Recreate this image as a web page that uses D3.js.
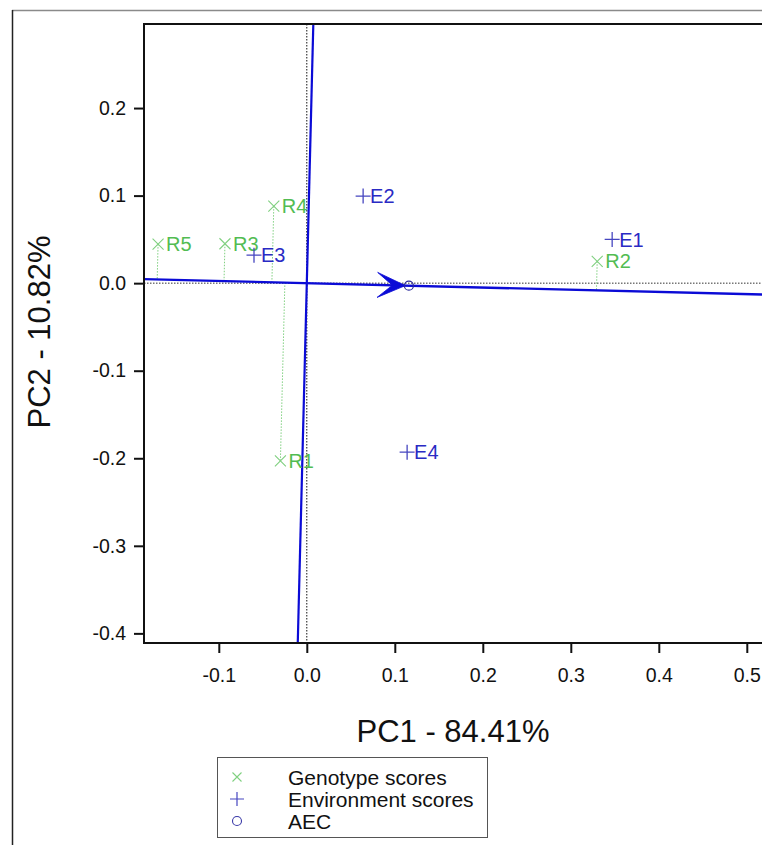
<!DOCTYPE html>
<html>
<head>
<meta charset="utf-8">
<script src="https://cdn.jsdelivr.net/npm/d3@7"></script>
<style>
  html, body { margin: 0; padding: 0; background: #fff; }
  svg { display: block; font-family: "Liberation Sans", Arial, sans-serif; }
</style>
</head>
<body>
<svg id="chart" width="762" height="845"></svg>
<script>
// ---- data ----
const genotypes = ["R1", "R2", "R3", "R4", "R5"];
const genoPC1 = [-0.030, 0.330, -0.093, -0.0375, -0.169];
const genoPC2 = [-0.203, 0.025, 0.045, 0.088, 0.0446];

const environments = ["E1", "E2", "E3", "E4"];
const envPC1 = [0.347, 0.064, -0.060, 0.114];
const envPC2 = [0.050, 0.0995, 0.032, -0.193];

const aecPoint = [0.116, -0.0029];

const xTicks = [-0.1, 0.0, 0.1, 0.2, 0.3, 0.4, 0.5];
const yTicks = [-0.4, -0.3, -0.2, -0.1, 0.0, 0.1, 0.2];

const xTitle = "PC1 - 84.41%";
const yTitle = "PC2 - 10.82%";
const legendLabels = ["Genotype scores", "Environment scores", "AEC"];

// ---- layout ----
const svg = d3.select("#chart");
const L = 144, T = 24, B = 643;
const x = d3.scaleLinear().domain([-0.185, 0.55]).range([L, L + 0.735 * 880]);
const y = d3.scaleLinear().domain([-0.411, 0.296]).range([B, T]);
const R = x(0.55);

const lineBlue = "#0b0bd6";
const envBlue = "#2a2ac4";
const green = "#52bc52";
const lightGreen = "#80d080";
const fmt = d => d3.format(".1f")(d).replace("\u2212", "-");

// outer frame
svg.append("line").attr("x1", 12).attr("x2", 800).attr("y1", 10.5).attr("y2", 10.5)
  .attr("stroke", "#8a8a8a").attr("stroke-width", 1.5);
svg.append("line").attr("x1", 12.5).attr("x2", 12.5).attr("y1", 10).attr("y2", 845)
  .attr("stroke", "#222").attr("stroke-width", 1.5);

// clip
svg.append("clipPath").attr("id", "plotclip").append("rect")
  .attr("x", L).attr("y", T).attr("width", R - L).attr("height", B - T);
const plot = svg.append("g").attr("clip-path", "url(#plotclip)");

// dotted zero lines
plot.append("line").attr("x1", L).attr("x2", R).attr("y1", y(0)).attr("y2", y(0))
  .attr("stroke", "#333").attr("stroke-width", 1).attr("stroke-dasharray", "1.5,1.5");
plot.append("line").attr("x1", x(0)).attr("x2", x(0)).attr("y1", T).attr("y2", B)
  .attr("stroke", "#111").attr("stroke-width", 1).attr("stroke-dasharray", "1.5,1.5");

// AEC direction
const norm = Math.hypot(aecPoint[0], aecPoint[1]);
const ux = aecPoint[0] / norm, uy = aecPoint[1] / norm;

// projections of genotypes onto AEC abscissa
genotypes.forEach((g, i) => {
  const t = genoPC1[i] * ux + genoPC2[i] * uy;
  plot.append("line")
    .attr("x1", x(genoPC1[i])).attr("y1", y(genoPC2[i]))
    .attr("x2", x(t * ux)).attr("y2", y(t * uy))
    .attr("stroke", lightGreen).attr("stroke-width", 1).attr("stroke-dasharray", "1.5,1.5");
});

// AEC abscissa and ordinate
const big = 2;
plot.append("line")
  .attr("x1", x(-big * ux)).attr("y1", y(-big * uy))
  .attr("x2", x(big * ux)).attr("y2", y(big * uy))
  .attr("stroke", lineBlue).attr("stroke-width", 2.4);
plot.append("line")
  .attr("x1", x(big * uy)).attr("y1", y(-big * ux))
  .attr("x2", x(-big * uy)).attr("y2", y(big * ux))
  .attr("stroke", lineBlue).attr("stroke-width", 2.2);

// arrowhead near AEC point
{
  const tipT = norm - 0.004;
  const tx = x(tipT * ux), ty = y(tipT * uy);
  const ang = Math.atan2(y(uy) - y(0), x(ux) - x(0)) * 180 / Math.PI;
  plot.append("path")
    .attr("d", "M0,0 L-28,-12.5 L-13,0 L-28,12.5 Z")
    .attr("transform", `translate(${tx},${ty}) rotate(${ang})`)
    .attr("fill", lineBlue).attr("stroke", lineBlue).attr("stroke-width", 0.8);
}

// AEC circle
plot.append("circle").attr("cx", x(aecPoint[0])).attr("cy", y(aecPoint[1])).attr("r", 4.5)
  .attr("fill", "none").attr("stroke", "#2a2a9a").attr("stroke-width", 1.2);

// genotype markers and labels
const gs = 5.5;
genotypes.forEach((g, i) => {
  const cx = x(genoPC1[i]), cy = y(genoPC2[i]);
  plot.append("path")
    .attr("d", `M${cx - gs},${cy - gs}L${cx + gs},${cy + gs}M${cx - gs},${cy + gs}L${cx + gs},${cy - gs}`)
    .attr("stroke", lightGreen).attr("stroke-width", 1.1).attr("fill", "none");
  plot.append("text").attr("x", cx + 8).attr("y", cy).attr("dy", "0.36em")
    .attr("font-size", 20).attr("fill", green).text(g);
});

// environment markers and labels
const es = 7.5;
environments.forEach((e, i) => {
  const cx = x(envPC1[i]), cy = y(envPC2[i]);
  plot.append("path")
    .attr("d", `M${cx - es},${cy}L${cx + es},${cy}M${cx},${cy - es}L${cx},${cy + es}`)
    .attr("stroke", "#4646c0").attr("stroke-width", 1.3).attr("fill", "none");
  plot.append("text").attr("x", cx + 7).attr("y", cy).attr("dy", "0.36em")
    .attr("font-size", 20).attr("fill", envBlue).text(e);
});

// axes frame
svg.append("line").attr("x1", L - 1).attr("x2", R).attr("y1", T).attr("y2", T)
  .attr("stroke", "#111").attr("stroke-width", 2);

const yAxis = d3.axisLeft(y).tickValues(yTicks).tickFormat(fmt)
  .tickSize(10).tickSizeOuter(0);
const gy = svg.append("g").attr("transform", `translate(${L},0)`).call(yAxis);
gy.attr("font-size", null).attr("font-family", null);
gy.select(".domain").attr("stroke", "#111").attr("stroke-width", 2)
  .attr("d", `M0,${T - 1}V${B + 1}`);
gy.selectAll(".tick line").attr("stroke", "#111").attr("stroke-width", 2);
gy.selectAll(".tick text").attr("font-size", 19.5).attr("fill", "#111").attr("x", -18);

const xAxis = d3.axisBottom(x).tickValues(xTicks).tickFormat(fmt)
  .tickSize(10).tickSizeOuter(0);
const gx = svg.append("g").attr("transform", `translate(0,${B})`).call(xAxis);
gx.attr("font-size", null).attr("font-family", null);
gx.select(".domain").attr("stroke", "#111").attr("stroke-width", 2)
  .attr("d", `M${L - 1},0H${R}`);
gx.selectAll(".tick line").attr("stroke", "#111").attr("stroke-width", 2);
gx.selectAll(".tick text").attr("font-size", 19.5).attr("fill", "#111").attr("y", 25);

// axis titles
svg.append("text").attr("x", 453).attr("y", 742).attr("text-anchor", "middle")
  .attr("font-size", 31).attr("fill", "#111").text(xTitle);
svg.append("text").attr("transform", "translate(50,332) rotate(-90)")
  .attr("text-anchor", "middle").attr("font-size", 31).attr("fill", "#111").text(yTitle);

// legend
const lg = svg.append("g");
lg.append("rect").attr("x", 217.5).attr("y", 757.5).attr("width", 270).attr("height", 80)
  .attr("fill", "#fff").attr("stroke", "#555").attr("stroke-width", 1);
const ly = [777, 799, 821];
legendLabels.forEach((t, i) => {
  lg.append("text").attr("x", 288).attr("y", ly[i]).attr("dy", "0.36em")
    .attr("font-size", 21).attr("fill", "#111").text(t);
});
{
  const sx = 237, s1 = 4.5;
  lg.append("path")
    .attr("d", `M${sx - s1},${ly[0] - s1}L${sx + s1},${ly[0] + s1}M${sx - s1},${ly[0] + s1}L${sx + s1},${ly[0] - s1}`)
    .attr("stroke", lightGreen).attr("stroke-width", 1.1);
  lg.append("path")
    .attr("d", `M${sx - 7},${ly[1]}L${sx + 7},${ly[1]}M${sx},${ly[1] - 7}L${sx},${ly[1] + 7}`)
    .attr("stroke", "#4646c0").attr("stroke-width", 1.2);
  lg.append("circle").attr("cx", sx).attr("cy", ly[2]).attr("r", 4.5)
    .attr("fill", "none").attr("stroke", "#3a3aa8").attr("stroke-width", 1.1);
}
</script>
</body>
</html>
